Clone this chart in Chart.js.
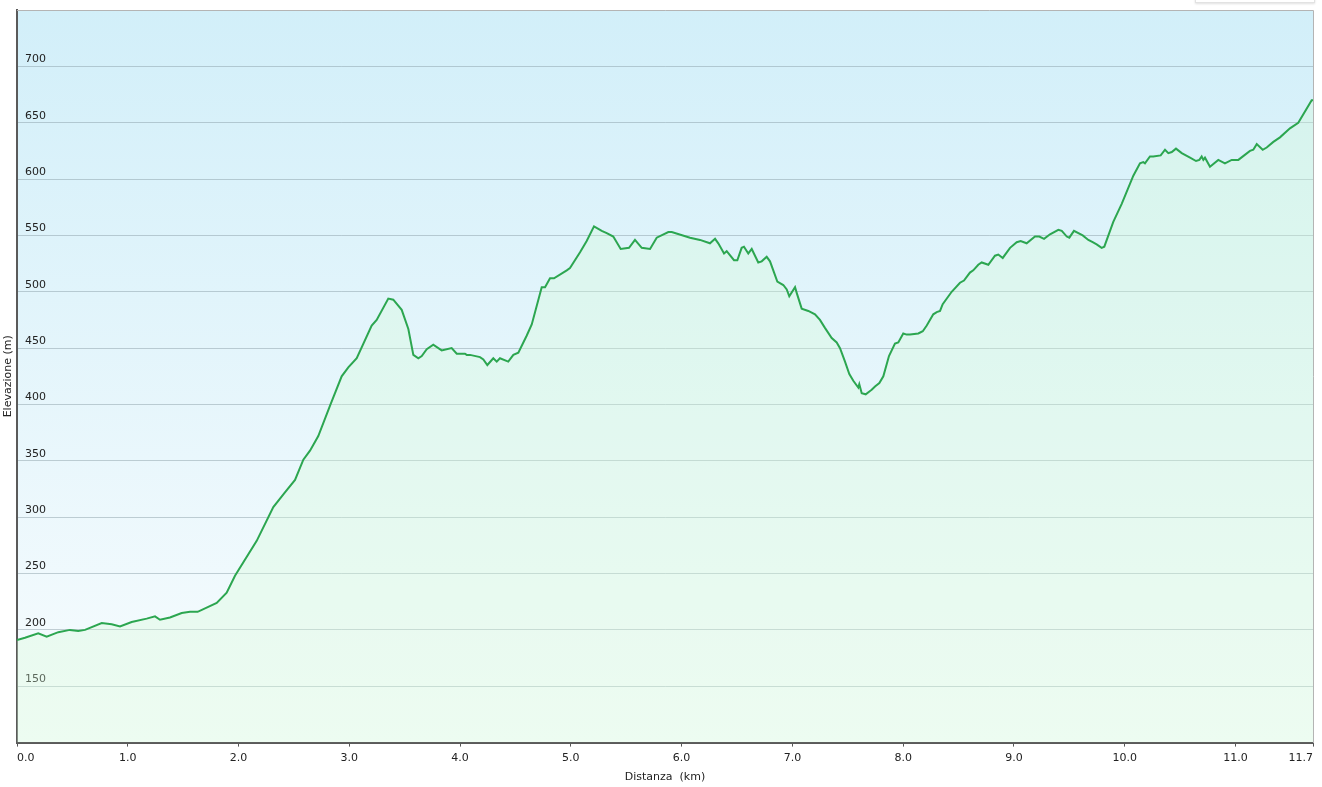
<!DOCTYPE html>
<html>
<head>
<meta charset="utf-8">
<script src="https://cdn.jsdelivr.net/npm/chart.js@4.4.1/dist/chart.umd.min.js"></script>
<style>
  html, body { margin: 0; padding: 0; background: #ffffff; overflow: hidden; }
  #wrap { position: relative; width: 1322px; height: 787px; }
  #topbox { position: absolute; left: 1195px; top: -20px; width: 118px; height: 21px; background: #fff; border: 1px solid #e2e2e2; box-shadow: 0 1px 2px rgba(0,0,0,0.12); }
</style>
</head>
<body>
<div id="wrap">
  <canvas id="c" width="1322" height="787"></canvas>
  <div id="topbox"></div>
</div>
<script>
// Distance along the track (km)
const distanceKm = [
  0.000, 0.072, 0.192, 0.268, 0.373, 0.478, 0.553, 0.614, 0.765, 0.855,
  0.930, 1.035, 1.171, 1.246, 1.291, 1.381, 1.487, 1.562, 1.631, 1.803,
  1.893, 1.968, 2.164, 2.314, 2.419, 2.510, 2.585, 2.645, 2.720, 2.826,
  2.931, 2.991, 3.067, 3.202, 3.247, 3.352, 3.397, 3.473, 3.533, 3.578,
  3.623, 3.654, 3.699, 3.758, 3.834, 3.924, 3.970, 4.044, 4.060, 4.090,
  4.180, 4.210, 4.246, 4.300, 4.331, 4.360, 4.435, 4.481, 4.526, 4.601,
  4.647, 4.737, 4.767, 4.812, 4.848, 4.963, 4.992, 5.083, 5.143, 5.209,
  5.279, 5.324, 5.383, 5.450, 5.525, 5.579, 5.640, 5.715, 5.775, 5.880,
  5.911, 6.076, 6.166, 6.256, 6.302, 6.331, 6.383, 6.407, 6.473, 6.503,
  6.542, 6.563, 6.602, 6.633, 6.692, 6.723, 6.768, 6.798, 6.864, 6.918,
  6.949, 6.972, 7.024, 7.039, 7.084, 7.144, 7.204, 7.249, 7.294, 7.355,
  7.400, 7.430, 7.475, 7.514, 7.550, 7.595, 7.604, 7.626, 7.662, 7.701,
  7.716, 7.746, 7.785, 7.821, 7.872, 7.926, 7.956, 8.001, 8.032, 8.062,
  8.137, 8.177, 8.213, 8.272, 8.303, 8.333, 8.357, 8.438, 8.513, 8.549,
  8.603, 8.633, 8.678, 8.709, 8.769, 8.829, 8.859, 8.899, 8.965, 9.025,
  9.061, 9.115, 9.190, 9.229, 9.272, 9.326, 9.401, 9.432, 9.477, 9.500,
  9.542, 9.621, 9.672, 9.711, 9.747, 9.792, 9.816, 9.897, 9.973, 10.078,
  10.138, 10.168, 10.183, 10.228, 10.258, 10.325, 10.364, 10.394, 10.425, 10.463,
  10.515, 10.590, 10.644, 10.674, 10.695, 10.710, 10.725, 10.770, 10.845, 10.905,
  10.966, 11.026, 11.131, 11.161, 11.192, 11.246, 11.282, 11.342, 11.402, 11.492,
  11.567, 11.688, 11.700
];

// Elevation (m)
const elevationM = [
  191, 193, 197, 194, 198, 200, 199, 200, 206, 205,
  203, 207, 210, 212, 209, 211, 215, 216, 216, 224,
  233, 248, 279, 309, 322, 333, 351, 359, 372, 399,
  425, 433, 441, 470, 475, 494, 493, 484, 467, 444,
  441, 443, 449, 453, 448, 450, 445, 445, 444, 444,
  442, 440, 435, 441, 438, 441, 438, 444, 446, 461,
  471, 504, 504, 512, 512, 519, 521, 535, 545, 558,
  554, 552, 549, 538, 539, 546, 539, 538, 548, 553,
  553, 548, 546, 543, 547, 543, 534, 536, 528, 528,
  539, 540, 534, 538, 526, 527, 531, 527, 509, 506,
  502, 496, 504, 499, 485, 483, 480, 475, 468, 459,
  455, 450, 438, 427, 421, 415, 418, 410, 409, 412,
  413, 416, 419, 425, 443, 454, 455, 463, 462, 462,
  463, 465, 470, 480, 482, 483, 489, 500, 508, 510,
  517, 519, 524, 526, 524, 532, 533, 530, 539, 544,
  545, 543, 549, 549, 547, 551, 555, 554, 549, 548,
  554, 550, 546, 544, 542, 539, 540, 562, 578, 603,
  614, 615, 614, 620, 620, 621, 626, 623, 624, 627,
  623, 619, 616, 617, 620, 617, 619, 611, 617, 614,
  617, 617, 625, 626, 631, 626, 628, 633, 637, 645,
  650, 670, 670
];

// Axis ticks
const xTickValues = [0, 1, 2, 3, 4, 5, 6, 7, 8, 9, 10, 11, 11.7];
const yTickMin = 100;
const yTickMax = 750;
const yTickStep = 50;
const yLabelMin = 150;
const yLabelMax = 700;

const xTitle = 'Distanza  (km)';
const yTitle = 'Elevazione (m)';

const points = distanceKm.map((d, i) => ({ x: d, y: elevationM[i] }));

const bgPlugin = {
  id: 'plotBg',
  beforeDraw(chart) {
    const { ctx, chartArea: a } = chart;
    const g = ctx.createLinearGradient(0, a.top, 0, a.bottom);
    g.addColorStop(0, '#d2eff9');
    g.addColorStop(1, '#f8fcfe');
    ctx.save();
    ctx.fillStyle = g;
    ctx.fillRect(a.left, a.top, a.right - a.left, a.bottom - a.top);
    ctx.restore();
  },
  afterDraw(chart) {
    const { ctx, chartArea: a } = chart;
    ctx.save();
    ctx.strokeStyle = '#b4b4b4';
    ctx.lineWidth = 1;
    ctx.beginPath();
    ctx.moveTo(Math.round(a.left), Math.round(a.top) + 0.5);
    ctx.lineTo(Math.round(a.right) + 0.5, Math.round(a.top) + 0.5);
    ctx.lineTo(Math.round(a.right) + 0.5, Math.round(a.bottom));
    ctx.stroke();
    ctx.restore();
  }
};

const font = { family: '"DejaVu Sans", Verdana, sans-serif', size: 11 };

new Chart(document.getElementById('c'), {
  type: 'line',
  data: {
    datasets: [{
      data: points,
      borderColor: '#2ca650',
      borderWidth: 2,
      pointRadius: 0,
      tension: 0,
      fill: 'start',
      backgroundColor: 'rgba(215,252,214,0.32)'
    }]
  },
  plugins: [bgPlugin],
  options: {
    responsive: false,
    animation: false,
    events: [],
    layout: { padding: { top: 10, right: 9, bottom: 1, left: 0 } },
    plugins: { legend: { display: false }, tooltip: { enabled: false } },
    scales: {
      x: {
        type: 'linear',
        min: 0,
        max: 11.7,
        afterBuildTicks(scale) {
          scale.ticks = xTickValues.map(v => ({ value: v }));
        },
        ticks: {
          align: 'inner',
          color: '#222',
          font: font,
          padding: 5,
          maxRotation: 0,
          autoSkip: false,
          callback: v => Number(v).toFixed(1)
        },
        grid: { display: true, drawOnChartArea: false, drawTicks: true, tickLength: 4, color: '#555', lineWidth: 1 },
        border: { display: true, color: '#5a5a5a', width: 2 },
        title: { display: true, text: xTitle, color: '#222', font: font, padding: { top: 1, bottom: 2 } }
      },
      y: {
        type: 'linear',
        min: yTickMin,
        max: yTickMax,
        afterFit(scale) {
          scale.width = 17;
          scale.paddingTop = 0;
          scale.paddingBottom = 0;
        },
        ticks: {
          stepSize: yTickStep,
          mirror: true,
          padding: 8,
          labelOffset: -7,
          color: '#222',
          font: font,
          callback: v => (v >= yLabelMin && v <= yLabelMax) ? String(v) : null
        },
        grid: { drawTicks: false, color: 'rgba(130,150,160,0.45)', lineWidth: 1 },
        border: { display: true, color: '#5a5a5a', width: 2 },
        title: { display: true, text: yTitle, color: '#222', font: font, padding: { top: 2, bottom: 2 } }
      }
    }
  }
});
</script>
</body>
</html>
